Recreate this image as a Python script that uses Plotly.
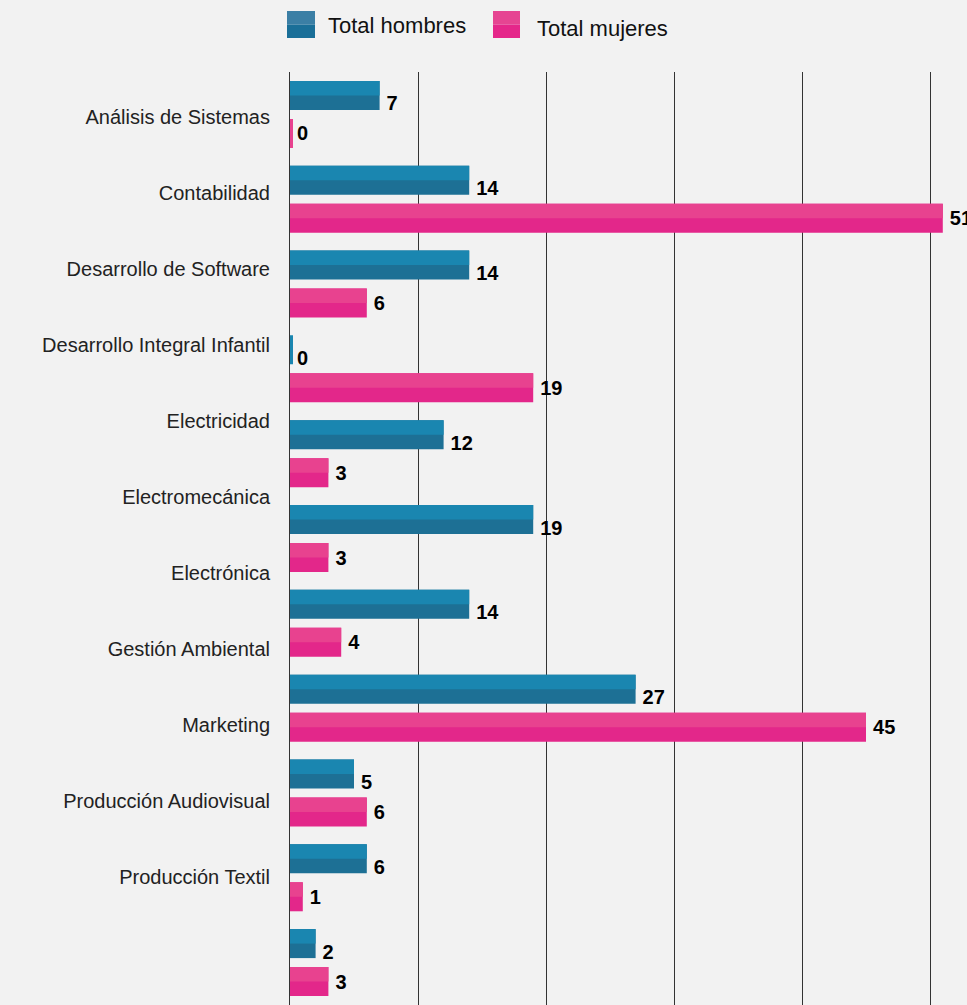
import plotly.graph_objects as go

categories = [
    "Análisis de Sistemas", "Contabilidad", "Desarrollo de Software",
    "Desarrollo Integral Infantil", "Electricidad", "Electromecánica",
    "Electrónica", "Gestión Ambiental", "Marketing",
    "Producción Audiovisual", "Producción Textil",
]
hombres = [7, 14, 14, 0, 12, 19, 14, 27, 5, 6, 2]
mujeres = [0, 51, 6, 19, 3, 3, 4, 45, 6, 1, 3]
series_names = ["Total hombres", "Total mujeres"]

W, H = 967, 1005
ML, MT, MB, MR = 290, 72, 0, 0
PW, PH = W - ML - MR, H - MT - MB

BLUE_D, BLUE_L = "#1d7095", "#1a86b0"
PINK_D, PINK_L = "#e3278a", "#e8428f"
BAR_W = 0.342
FONT = "Liberation Sans, Arial, sans-serif"

fig = go.Figure()

def add_series(vals, name, dark, light, off, text_shift):
    # carrier for the value labels (transparent)
    fig.add_trace(go.Bar(
        y=categories, x=vals, orientation="h", name=name,
        marker=dict(color="rgba(0,0,0,0)", line=dict(width=0)),
        offset=off + text_shift, width=BAR_W,
        text=[str(v) for v in vals], texttemplate="\u2009%{text}",
        textposition="outside",
        textfont=dict(family=FONT, size=20, color="#000000", weight="bold"),
        cliponaxis=False, constraintext="none",
        showlegend=False, hoverinfo="skip",
    ))
    fig.add_trace(go.Bar(
        y=categories, x=vals, orientation="h", name=name,
        marker=dict(color=dark,
                    line=dict(color=light,
                              width=[6 if v == 0 else 0 for v in vals])),
        offset=off, width=BAR_W, cliponaxis=False,
        showlegend=False, hoverinfo="x+name",
    ))
    fig.add_trace(go.Bar(
        y=categories, x=vals, orientation="h", name=name,
        marker=dict(color=light, line=dict(width=0)),
        offset=off, width=BAR_W / 2,
        showlegend=False, hoverinfo="skip",
    ))

add_series(hombres, series_names[0], BLUE_D, BLUE_L, -0.395, 0.095)
add_series(mujeres, series_names[1], PINK_D, PINK_L, 0.053, 0.0)

# label axis (drawn with its own spacing, as in the reference)
fig.add_trace(go.Scatter(
    y=categories, x=[0] * len(categories), yaxis="y2", mode="markers",
    marker=dict(opacity=0), showlegend=False, hoverinfo="skip",
))

fig.update_layout(
    width=W, height=H,
    margin=dict(l=ML, r=MR, t=MT, b=MB, pad=0),
    paper_bgcolor="#f2f2f2", plot_bgcolor="#f2f2f2",
    barmode="overlay", showlegend=False,
    font=dict(family=FONT, color="#222222"),
    xaxis=dict(range=[0, PW / 12.8], dtick=10, showgrid=True,
               gridcolor="#333333", gridwidth=1, zeroline=False,
               showticklabels=False, ticks=""),
    yaxis=dict(type="category", categoryorder="array", categoryarray=categories,
               range=[len(categories) - 0.5, -0.5], showticklabels=False,
               showgrid=False, showline=True, linecolor="#333333", linewidth=1,
               ticks=""),
    yaxis2=dict(type="category", categoryorder="array", categoryarray=categories,
                overlaying="y", side="left", anchor="x",
                range=[(PH - 45) / 76.0, -45 / 76.0],
                showgrid=False, showline=False, ticks="",
                ticklabelstandoff=19,
                tickfont=dict(family=FONT, size=20, color="#222222")),
)

def px2paper(px, py):
    return (px - ML) / PW, (H - MB - py) / PH

legend_items = [
    (series_names[0], "#3b7fa5", "#1a6f98", 287, 315, 326, 26),
    (series_names[1], "#e64592", "#e5278a", 493, 520, 535, 28),
]
for name, up, low, sx0, sx1, tx, ty in legend_items:
    x0, y0 = px2paper(sx0, 11)
    x1, ym = px2paper(sx1, 24.5)
    _, y1 = px2paper(sx1, 38)
    fig.add_shape(type="rect", xref="paper", yref="paper", x0=x0, x1=x1,
                  y0=ym, y1=y0, fillcolor=up, line=dict(width=0))
    fig.add_shape(type="rect", xref="paper", yref="paper", x0=x0, x1=x1,
                  y0=y1, y1=ym, fillcolor=low, line=dict(width=0))
    ax, ay = px2paper(tx, ty)
    fig.add_annotation(text=name, xref="paper", yref="paper", x=ax, y=ay,
                       xanchor="left", yanchor="middle", showarrow=False,
                       font=dict(family=FONT, size=22, color="#111111"))

fig.write_html(
    "out.html",
    config={"displayModeBar": False},
    post_script="document.body.style.margin='0';document.body.style.background='#f2f2f2';",
)
